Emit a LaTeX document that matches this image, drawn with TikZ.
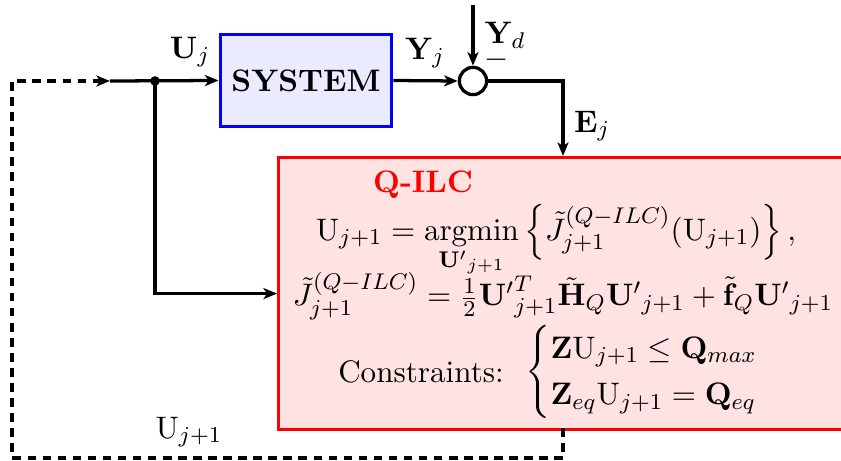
\documentclass[tikz,border=0pt]{standalone}
\usepackage{amsmath}
\usetikzlibrary{arrows.meta}
\newcommand{\bsz}{\fontsize{10.95}{13.6}\selectfont}
\tikzset{
  conn/.style={line width=1.15pt},
  arr/.style={-{Stealth[length=4.8pt,width=3.9pt,inset=1.3pt]}},
  dconn/.style={line width=1.15pt,dash pattern=on 3pt off 2.3pt},
  sysbox/.style={draw=blue,fill=blue!8,line width=1.1pt,minimum width=60.5pt,minimum height=32.7pt,inner sep=0pt,font=\bsz\bfseries},
  qbox/.style={draw=red,fill=red!11,line width=1.1pt,minimum width=219pt,minimum height=95.8pt,inner sep=0pt,anchor=north west},
  sumc/.style={draw,circle,line width=1.15pt,minimum size=9.6pt,inner sep=0pt},
  lbl/.style={font=\bsz,inner sep=0pt},
}
\begin{document}
\begin{tikzpicture}[x=0.3521pt,y=-0.3521pt,font=\bsz]
\clip (0,0) rectangle (841,461);
\fill[white] (0,0) rectangle (841,461);
% blocks
\node[sysbox] (sys) at (306,80.5) {SYSTEM};
\node[sumc] (sum) at (473,81) {};
\node[qbox] (q) at (277,156) {};
% coordinates
\coordinate (jstart) at (110,81);
\coordinate (br) at (155,81);
\coordinate (ydtop) at (473,5);
\coordinate (ein) at (563,156);
\coordinate (dsA) at (563,428);
\coordinate (dsB) at (563,458);
\coordinate (dsC) at (12,458);
\coordinate (dsD) at (12,81);
% connectors
\draw[conn,arr] (jstart) -- (sys.west);
\draw[conn,arr] (br) |- (q.west);
\fill (br) circle (1.7pt);
\draw[conn,arr] (sys.east) -- (sum.west);
\draw[conn,arr] (ydtop) -- (sum.north);
\draw[conn,arr] (sum.east) -| (ein);
\draw[dconn,arr] (dsA) -- (dsB) -- (dsC) -- (dsD) -- (jstart);
% labels
\node[lbl] (luj) at (190,52) {$\mathbf{U}_j$};
\node[lbl] (lyj) at (425,53) {$\mathbf{Y}_j$};
\node[lbl] (lyd) at (505,35) {$\mathbf{Y}_d$};
\node[lbl] (lmin) at (497,60) {$-$};
\node[lbl] (lej) at (592,126) {$\mathbf{E}_j$};
\node[lbl] (luj1) at (189,432) {$\mathrm{U}_{j+1}$};
% Q-ILC contents
\node[lbl,text=red,font=\bsz\bfseries] (qt) at (423,185) {Q-ILC};
\node[lbl,anchor=base] (eq1) at (556,240) {$\displaystyle \mathrm{U}_{j+1}=\mathop{\mathrm{argmin}}\limits_{\mathbf{U'}_{j+1}}\left\{\tilde{J}^{(Q-ILC)}_{j+1}(\mathrm{U}_{j+1})\right\},$};
\node[lbl,anchor=base] (eq2) at (563,306) {$\tilde{J}^{(Q-ILC)}_{j+1}=\frac{1}{2}\mathbf{U'}^{T}_{j+1}\tilde{\mathbf{H}}_Q\mathbf{U'}_{j+1}+\tilde{\mathbf{f}}_Q\mathbf{U'}_{j+1}$};
\node[lbl] (cons) at (421,372) {Constraints:};
\node[lbl,anchor=west] (eq3) at (525,372) {$\begin{cases}\mathbf{Z}\mathrm{U}_{j+1}\leq\mathbf{Q}_{max}\\ \mathbf{Z}_{eq}\mathrm{U}_{j+1}=\mathbf{Q}_{eq}\end{cases}$};
\end{tikzpicture}
\end{document}
